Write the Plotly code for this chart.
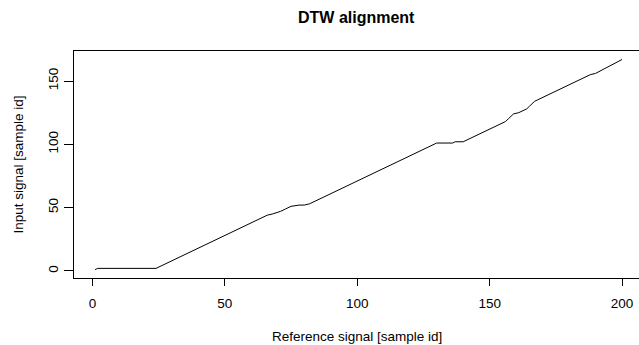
import plotly.graph_objects as go

# DTW warping path vertices (reference index, input index)
ref_idx = [1, 2, 24, 66, 68, 70, 71, 73, 75, 78, 80, 82, 130, 136, 137, 140, 141,
           155, 156, 157, 158, 159, 161, 163, 164, 165, 166, 167, 168, 188, 190, 200]
inp_idx = [1, 2, 2, 44, 45, 46, 47, 49, 51, 52, 52, 53, 101, 101, 102, 102, 103,
           117, 118, 120, 122, 124, 125, 127, 128, 130, 132, 134, 135, 155, 156, 167]

x_ticks = [0, 50, 100, 150, 200]
y_ticks = [0, 50, 100, 150]

FONT = "Liberation Sans, Arial, Helvetica, sans-serif"

fig = go.Figure()
fig.add_trace(go.Scatter(x=ref_idx, y=inp_idx, mode="lines",
                         line=dict(color="black", width=1), showlegend=False,
                         hoverinfo="skip"))

fig.update_layout(
    width=639, height=345,
    margin=dict(l=74, r=0, t=51, b=67),
    paper_bgcolor="white", plot_bgcolor="white",
    font=dict(family=FONT, size=13.5, color="black"),
    showlegend=False,
)
fig.update_xaxes(range=[-6.96, 206.4], tickvals=x_ticks, ticktext=[str(v) for v in x_ticks],
                 showgrid=False, zeroline=False, showline=True, mirror=True,
                 linecolor="black", linewidth=1, ticks="outside", ticklen=7,
                 tickcolor="black", tickwidth=1, ticklabelstandoff=6)
fig.update_yaxes(range=[-5.6, 173.7], tickvals=y_ticks, ticktext=[str(v) for v in y_ticks],
                 showgrid=False, zeroline=False, showline=True, mirror=False,
                 linecolor="black", linewidth=1, ticks="outside", ticklen=9,
                 tickcolor="black", tickwidth=1, tickangle=-90, ticklabelstandoff=1)

fig.add_annotation(text="<b>DTW alignment</b>", xref="paper", yref="paper",
                   x=0.5, y=1, yshift=34, xanchor="center", yanchor="middle",
                   showarrow=False, font=dict(family=FONT, size=16, color="black"))
fig.add_annotation(text="Reference signal [sample id]", xref="paper", yref="paper",
                   x=0.5, y=0, yshift=-58, xanchor="center", yanchor="middle",
                   showarrow=False, font=dict(family=FONT, size=13.5, color="black"))
fig.add_annotation(text="Input signal [sample id]", xref="paper", yref="paper",
                   x=0, y=0.5, xshift=-56, textangle=-90, xanchor="center",
                   yanchor="middle", showarrow=False,
                   font=dict(family=FONT, size=13.5, color="black"))

fig.write_html("out.html")
